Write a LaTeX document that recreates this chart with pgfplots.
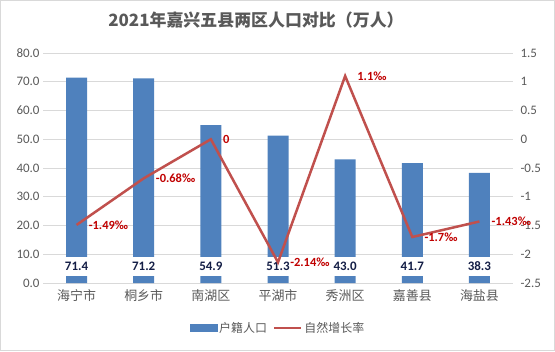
\documentclass[border=0pt]{standalone}
\usepackage{pgfplots}
\pgfplotsset{compat=1.18}
\usepackage{fontspec}
\setmainfont{Carlito}
\newfontfamily\cjk{Noto Sans CJK SC}
\definecolor{barblue}{RGB}{79,129,189}
\definecolor{linered}{RGB}{192,80,77}
\definecolor{labred}{RGB}{192,0,0}
\definecolor{txtgray}{RGB}{89,89,89}
\definecolor{gridgray}{RGB}{217,217,217}
\definecolor{navy}{RGB}{20,30,70}
\begin{document}
\begin{tikzpicture}[x=1bp,y=1bp]
\draw[gridgray, line width=1bp] (0.5,0.5) rectangle (554.5,350.5);
\node[font=\cjk\bfseries\fontsize{17}{20}\selectfont, text=txtgray] at (256,331) {2021年嘉兴五县两区人口对比（万人）};
\begin{axis}[
  at={(43bp,68bp)}, anchor=south west, width=470bp, height=230bp, scale only axis,
  xmin=-0.5, xmax=6.5, ymin=0, ymax=80,
  ytick={0,10,...,80},
  xtick={0,...,6},
  xticklabels={海宁市,桐乡市,南湖区,平湖市,秀洲区,嘉善县,海盐县},
  axis line style={draw=none},
  major tick length=0pt,
  ymajorgrids, grid style={gridgray, line width=0.8bp},
  /pgf/number format/assume math mode=true,
  xticklabel style={font=\cjk\fontsize{13}{15}\selectfont, text=txtgray, yshift=-3bp},
  yticklabel style={font=\fontsize{13}{15}\selectfont, text=txtgray, /pgf/number format/.cd, fixed, fixed zerofill, precision=1},
  legend style={at={(0.5,-0.196)}, anchor=center, draw=none, fill=none, legend columns=2,
    font=\cjk\fontsize{12}{14}\selectfont, text=txtgray,
    /tikz/column 2/.style={column sep=4bp}},
  clip=false,
]
\addplot[ybar, bar width=21bp, fill=barblue, draw=none, forget plot] coordinates {(0,71.4) (1,71.2) (2,54.9) (3,51.3) (4,43.0) (5,41.7) (6,38.3)};
\addplot[draw=none, mark=none, forget plot, nodes near coords, point meta=explicit symbolic,
  nodes near coords style={anchor=center, fill=white, inner sep=2bp, minimum height=19bp, text=navy, font=\bfseries\fontsize{13}{15}\selectfont}]
  table[meta=lab] {
x y lab
0 5.9 71.4
1 5.9 71.2
2 5.9 54.9
3 5.9 51.3
4 5.9 43.0
5 5.9 41.7
6 5.9 38.3
};
\addlegendimage{legend image code/.code={\fill[barblue] (0bp,-3.5bp) rectangle (27bp,3.5bp);}}
\addlegendentry{户籍人口}
\addlegendimage{legend image code/.code={\draw[linered, line width=2.5bp] (0bp,0bp) -- (27bp,0bp);}}
\addlegendentry{自然增长率}
\end{axis}
\begin{axis}[
  at={(43bp,68bp)}, anchor=south west, width=470bp, height=230bp, scale only axis,
  xmin=-0.5, xmax=6.5, ymin=-2.5, ymax=1.5,
  axis x line=none, axis y line*=right,
  axis line style={draw=none},
  major tick length=0pt,
  ytick={-2.5,-2,...,1.5},
  /pgf/number format/assume math mode=true,
  yticklabel style={font=\fontsize{13}{15}\selectfont, text=txtgray, anchor=west, xshift=4bp},
  clip=false,
]
\addplot[linered, line width=2.5bp, mark=none, nodes near coords, point meta=explicit symbolic,
  nodes near coords style={anchor=west, xshift=10bp, inner sep=1bp, text=labred, font=\bfseries\fontsize{12.5}{14}\selectfont}]
  table[meta=lab] {
x y lab
0 -1.49 -1.49‰
1 -0.68 -0.68‰
2 0 0
3 -2.14 -2.14‰
4 1.1 1.1‰
5 -1.7 -1.7‰
6 -1.43 -1.43‰
};
\end{axis}
\end{tikzpicture}
\end{document}
